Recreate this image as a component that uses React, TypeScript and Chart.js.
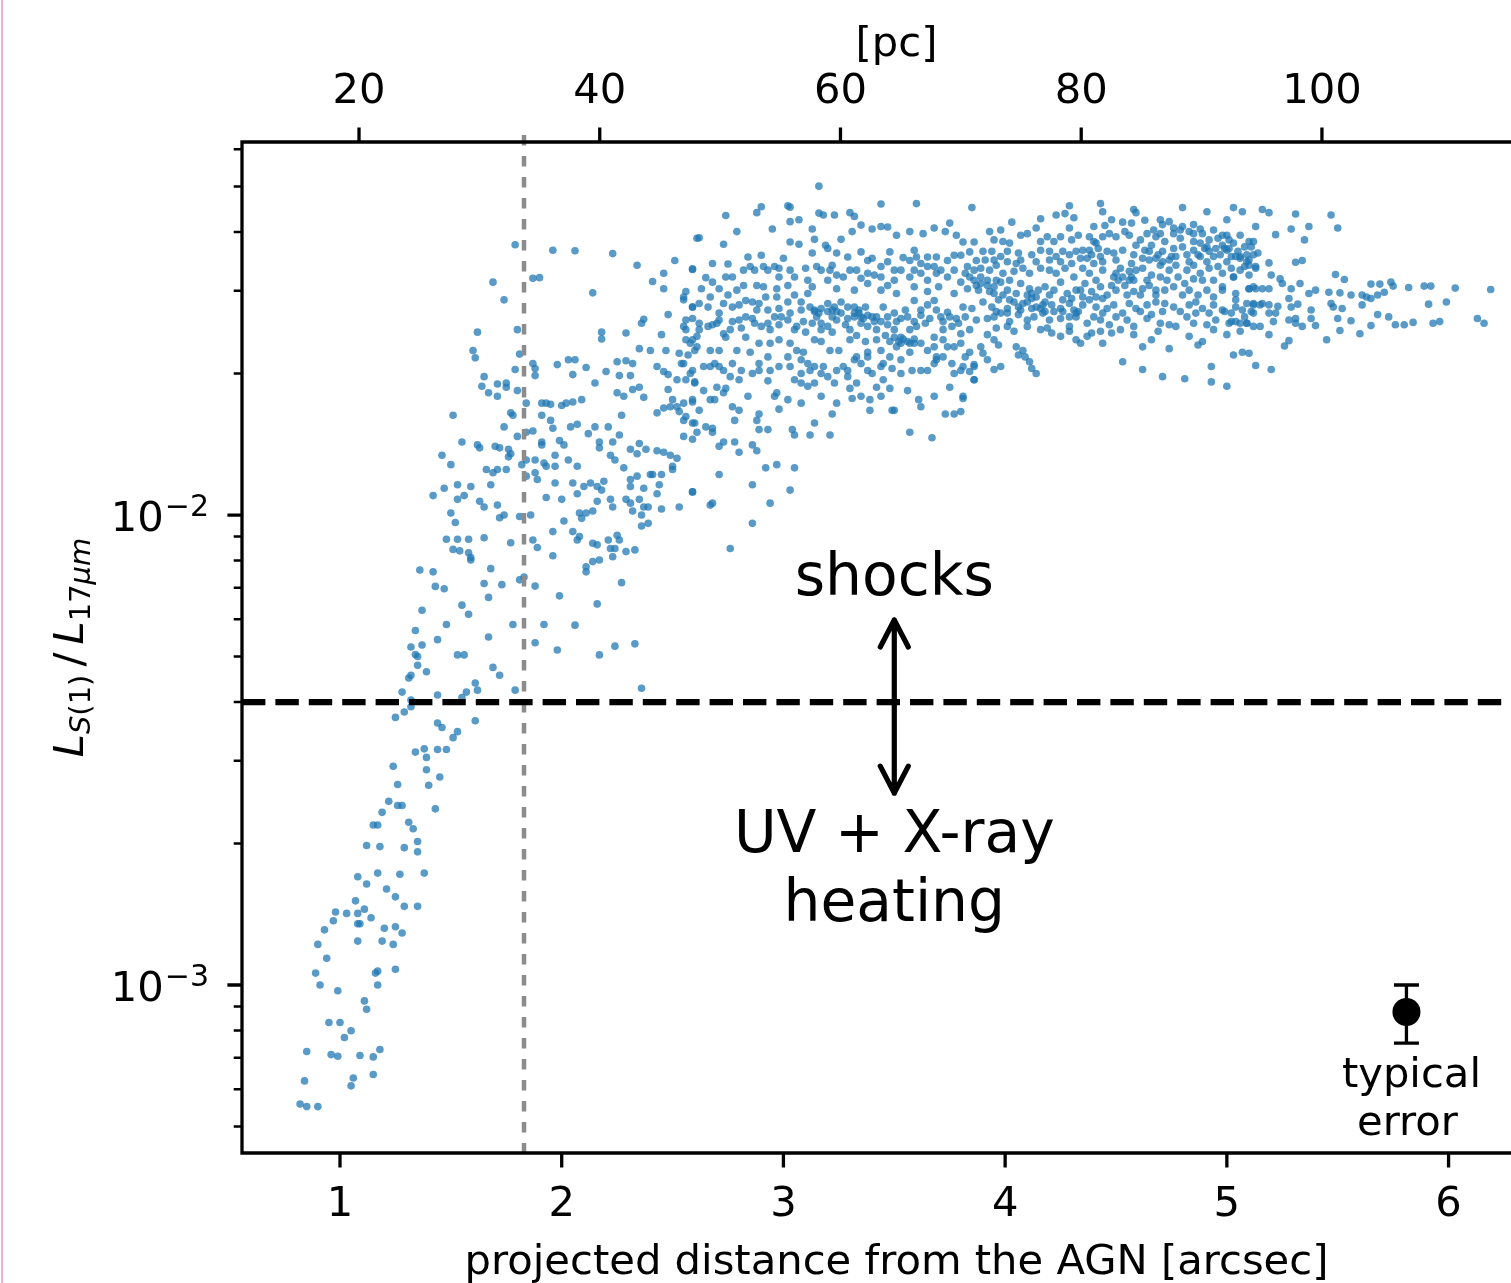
import React, { useEffect, useRef } from "react";
import { Chart, registerables } from "chart.js";

Chart.register(...registerables);

// ---------------- data ----------------
// projected distance [arcsec], L_S(1)/L_17um
const innerRise: [number, number][] = [
  [1.36,0.00764],[1.42,0.00757],[1.43,0.00705],[1.47,0.00697],[1.37,0.00627],[1.34,0.00568],[1.32,0.00524],[1.37,0.00529],[1.34,0.00505],[1.35,0.005],[1.35,0.00479],[1.39,0.00464],[1.31,0.0045],[1.32,0.00456],[1.28,0.0042],[1.32,0.00404],[1.32,0.00391],[1.29,0.00381],[1.25,0.00371],[1.44,0.00414],[1.44,0.00543],[1.48,0.00585],[1.55,0.00643],[1.58,0.00615],[1.59,0.00802],[1.68,0.00769],[1.65,0.00715],[1.73,0.00711],[1.67,0.00668],[1.81,0.00728],[1.83,0.00738],[1.88,0.00706],[1.99,0.00673],[1.78,0.00585],[1.92,0.00585],[1.88,0.00535],[1.98,0.00516],[1.67,0.0055],[1.53,0.00504],[1.56,0.00504],[1.69,0.00474],[1.72,0.00456],[1.61,0.00439],[1.62,0.00424],[1.57,0.0042],[1.55,0.00409],[1.79,0.00424],[1.61,0.00365],[1.44,0.00361],[1.46,0.00353],[1.53,0.00346],[1.51,0.00336],[1.34,0.00313],[1.38,0.00318],[1.44,0.00317],[1.48,0.00317],[1.39,0.00305],[1.24,0.00292],[1.39,0.00287],[1.45,0.00277],[1.26,0.00267],[1.4,0.00266],[1.22,0.00246],[1.26,0.00241],[1.28,0.00241],[1.43,0.00237],[1.19,0.00233],[1.31,0.00222],[1.33,0.00215],[1.15,0.00219],[1.17,0.00219],[1.35,0.00202],[1.35,0.00192],[1.12,0.00198],[1.18,0.00197],[1.29,0.00196],[1.08,0.0017],[1.12,0.00164],[1.17,0.00173],[1.27,0.00172],[1.38,0.00173],[1.21,0.0016],[1.25,0.00154],[1.07,0.00151],[1.11,0.00145],[1.29,0.00147],[1.35,0.00147],[0.98,0.00143],[1.03,0.00142],[1.08,0.00142],[1.14,0.00139],[0.97,0.00137],[1.08,0.00135],[1.09,0.00135],[1.2,0.00132],[1.25,0.00133],[0.93,0.00131],[0.9,0.00122],[1.08,0.00124],[1.19,0.00124],[1.24,0.00122],[1.28,0.00129],[0.94,0.00114],[0.89,0.00106],[0.91,0.001],[0.99,0.000972],[1.16,0.00106],[1.17,0.00107],[1.17,0.001],[1.25,0.00108],[1.11,0.000925],[1.12,0.000888],[0.95,0.000832],[1.0,0.000832],[1.05,0.000799],[1.02,0.000773],[0.85,0.000722],[0.96,0.000711],[0.99,0.000705],[1.09,0.000708],[1.15,0.000703],[1.18,0.000729],[1.06,0.000634],[1.05,0.00061],[1.15,0.000645],[0.84,0.000625],[0.82,0.000558],[0.85,0.000551],[0.9,0.000551],
];

const transition: [number, number][] = [
  [1.79,0.0376],[1.96,0.0366],[2.06,0.0365],[2.23,0.036],[2.34,0.034],[2.51,0.0348],[2.61,0.0388],[2.59,0.0334],[2.46,0.0327],[2.41,0.0314],[2.46,0.0303],[2.56,0.0299],[2.55,0.0287],[2.59,0.0277],[1.69,0.0313],[1.74,0.0287],[1.87,0.0319],[1.9,0.032],[2.14,0.0297],[2.48,0.0267],[2.37,0.0261],[2.36,0.0256],[1.62,0.0245],[1.8,0.0248],[2.18,0.0245],[2.18,0.0237],[2.29,0.0244],[2.45,0.0242],[2.55,0.0252],[2.56,0.0248],[2.59,0.0262],[2.61,0.024],[1.6,0.0224],[1.61,0.0216],[1.81,0.022],[1.87,0.021],[1.88,0.0205],[1.98,0.0209],[2.03,0.0214],[2.06,0.0214],[2.11,0.0206],[2.05,0.0199],[1.88,0.0198],[1.79,0.0204],[1.65,0.0197],[1.64,0.0188],[1.71,0.019],[1.75,0.0191],[1.75,0.0187],[1.67,0.0182],[1.71,0.0179],[1.8,0.0184],[1.84,0.0173],[2.2,0.0202],[2.25,0.0212],[2.29,0.0213],[2.32,0.021],[2.35,0.0226],[2.4,0.0224],[2.47,0.0224],[2.53,0.0221],[2.57,0.0219],[2.6,0.0224],[2.43,0.0207],[2.46,0.0202],[2.48,0.0199],[2.52,0.0194],[2.54,0.021],[2.58,0.02],[2.6,0.0192],[2.26,0.0198],[2.31,0.0198],[2.15,0.0191],[2.25,0.0182],[2.28,0.0179],[2.32,0.0185],[2.35,0.0187],[2.37,0.0178],[2.48,0.0185],[2.5,0.0176],[2.52,0.017],[2.49,0.017],[2.46,0.0169],[2.43,0.0165],[2.53,0.0166],[2.55,0.0159],[2.59,0.0157],[2.59,0.0174],[1.51,0.0163],[1.77,0.0165],[1.78,0.0163],[1.91,0.0173],[1.93,0.0173],[1.95,0.0172],[2.0,0.0171],[2.02,0.0173],[2.05,0.0174],[2.09,0.0176],[1.91,0.0163],[1.95,0.0159],[1.96,0.0153],[1.74,0.0154],[1.8,0.0147],[1.84,0.015],[1.87,0.0151],[2.04,0.0154],[2.07,0.0156],[2.12,0.0149],[2.15,0.0154],[2.21,0.0154],[2.27,0.0163],[2.26,0.0148],[2.17,0.0143],[2.17,0.0139],[2.23,0.0143],[1.55,0.0143],[1.62,0.0141],[1.63,0.0139],[1.7,0.014],[1.72,0.0139],[1.76,0.0138],[1.76,0.0133],[1.77,0.0135],[1.46,0.0134],[1.5,0.0128],[1.66,0.0125],[1.69,0.0123],[1.71,0.0125],[1.75,0.0125],[1.82,0.0128],[1.84,0.0131],[1.88,0.0131],[1.92,0.0129],[1.93,0.0127],[1.97,0.0127],[1.97,0.0134],[2.01,0.0141],[1.99,0.0144],[1.91,0.0143],[1.91,0.0141],[2.03,0.0131],[2.07,0.0127],[2.22,0.0134],[2.24,0.0131],[2.28,0.0126],[2.31,0.0138],[2.35,0.0142],[2.34,0.0135],[2.38,0.0138],[2.43,0.0137],[2.46,0.0136],[2.49,0.0134],[2.52,0.0132],[2.5,0.0127],[2.5,0.0125],[2.4,0.0122],[2.41,0.0122],[2.31,0.0119],[2.34,0.0121],[2.31,0.0115],[2.37,0.0114],[2.44,0.0116],[2.45,0.0122],[2.43,0.0111],[2.53,0.0104],[2.59,0.0112],[1.88,0.0123],[1.89,0.0119],[1.84,0.0121],[1.97,0.0117],[1.42,0.011],[1.47,0.0114],[1.53,0.0116],[1.53,0.0108],[1.56,0.011],[1.59,0.0115],[1.68,0.0116],[1.63,0.0107],[1.65,0.0104],[1.71,0.0105],[1.5,0.0101],[1.52,0.00964],[1.72,0.00987],[1.74,0.01],[1.81,0.00993],[1.86,0.01],[1.93,0.0109],[2.0,0.0108],[2.05,0.0117],[2.07,0.0111],[2.1,0.0115],[2.13,0.0117],[2.16,0.0115],[2.18,0.0113],[2.19,0.0118],[2.16,0.0107],[2.22,0.0108],[2.23,0.0104],[2.29,0.0108],[2.31,0.0106],[2.32,0.0102],[2.35,0.0108],[2.37,0.0104],[2.39,0.0104],[2.45,0.0103],[2.36,0.01],[2.39,0.0096],[2.36,0.00948],[2.08,0.0101],[2.11,0.0101],[2.14,0.0102],[2.09,0.00984],[2.01,0.00971],[1.96,0.00922],[2.05,0.00922],[2.08,0.009],[2.07,0.00885],[2.14,0.00871],[2.16,0.00864],[2.21,0.00885],[2.25,0.00906],[2.26,0.00885],[2.24,0.00849],[2.22,0.00849],[2.23,0.00815],[2.29,0.00836],[2.33,0.00843],[1.48,0.00888],[1.53,0.00888],[1.58,0.00888],[1.65,0.00895],[1.51,0.00845],[1.54,0.00839],[1.58,0.00831],[1.59,0.00812],[1.77,0.00873],[1.87,0.00885],[1.89,0.00853],[1.96,0.00819],[2.11,0.00776],[2.11,0.00757],[2.14,0.00796],[2.17,0.00802],[2.27,0.00718],[2.16,0.00647],[2.06,0.00583],[2.24,0.00526],[2.33,0.00532],[2.17,0.00504],[2.36,0.00428],
];

const plateauLeft: [number, number][] = [
  [3.16,0.0501],[3.44,0.0459],[3.6,0.046],[3.85,0.0451],[2.74,0.0434],[2.88,0.044],[2.9,0.0453],[3.02,0.0455],[3.03,0.0452],[3.16,0.0439],[3.18,0.0435],[3.23,0.0435],[3.3,0.044],[3.32,0.0432],[2.62,0.0389],[2.79,0.0401],[2.95,0.0406],[3.03,0.0421],[3.07,0.0425],[3.13,0.0406],[3.14,0.0386],[3.26,0.0386],[3.31,0.0401],[3.35,0.0414],[3.4,0.0406],[3.44,0.0411],[3.47,0.041],[3.51,0.0394],[3.57,0.0401],[3.63,0.0397],[3.68,0.0408],[3.73,0.0401],[3.75,0.0418],[3.78,0.0394],[3.81,0.0381],[3.86,0.0381],[2.73,0.0377],[3.03,0.0381],[3.07,0.0377],[3.19,0.0375],[3.2,0.0369],[3.35,0.0363],[3.4,0.0352],[3.44,0.0338],[3.48,0.0363],[3.54,0.0353],[3.59,0.0366],[3.6,0.0354],[3.62,0.0343],[3.65,0.0354],[3.69,0.0354],[3.74,0.0348],[3.8,0.0357],[3.84,0.0363],[3.87,0.0348],
  [2.59,0.0333],[2.75,0.0342],[2.65,0.032],[2.68,0.0313],[2.74,0.0321],[2.79,0.0301],[2.82,0.0332],[2.85,0.0338],[2.88,0.0308],[2.91,0.0306],[2.93,0.0332],[2.96,0.0338],[2.98,0.0321],[3.0,0.0352],[2.97,0.0303],[3.02,0.0308],[3.05,0.0321],[3.1,0.0335],[3.15,0.0338],[3.17,0.0332],[3.2,0.0316],[3.22,0.034],[3.27,0.0321],[3.3,0.0332],[3.35,0.0319],[3.38,0.0311],[3.41,0.0324],[3.47,0.0308],[3.5,0.0316],[3.53,0.0332],[3.57,0.0321],[3.62,0.0327],[3.65,0.0316],[3.69,0.0327],[3.74,0.0321],[3.77,0.0332],[3.8,0.0313],[3.84,0.0321],[3.87,0.0308],
  [2.55,0.0291],[2.59,0.0277],[2.63,0.0303],[2.66,0.0277],[2.71,0.0303],[2.73,0.0282],[2.75,0.0294],[2.77,0.0277],[2.8,0.028],[2.83,0.0286],[2.86,0.0262],[2.89,0.0282],[2.93,0.0273],[2.97,0.0291],[2.98,0.0275],[3.02,0.0284],[3.05,0.0294],[3.08,0.0284],[3.11,0.0296],[3.14,0.0273],[3.15,0.0264],[3.2,0.0282],[3.23,0.0277],[3.26,0.0284],[3.29,0.0277],[3.32,0.0269],[3.35,0.0264],[3.38,0.0266],[3.42,0.0264],[3.45,0.0277],[3.5,0.0269],[3.53,0.0262],[3.56,0.0264],[3.59,0.0286],[3.62,0.0273],[3.65,0.028],[3.68,0.0286],[3.71,0.0264],[3.74,0.027],[3.78,0.0262],[3.81,0.0277],[3.85,0.0275],[3.87,0.026],
  [2.56,0.026],[2.62,0.0256],[2.66,0.0252],[2.7,0.0256],[2.73,0.0243],[2.76,0.0248],[2.8,0.026],[2.83,0.0239],[2.87,0.0256],[2.9,0.0252],[2.94,0.0248],[2.98,0.0254],[3.02,0.026],[3.06,0.0252],[3.1,0.0245],[3.13,0.0256],[3.17,0.0248],[3.2,0.0252],[3.24,0.026],[3.28,0.0254],[3.3,0.0248],[3.35,0.0256],[3.38,0.0252],[3.42,0.0248],[3.47,0.0254],[3.5,0.0248],[3.53,0.0239],[3.57,0.0248],[3.6,0.0252],[3.64,0.0256],[3.68,0.0239],[3.72,0.0248],[3.76,0.0252],[3.8,0.0243],[3.84,0.0248],
  [2.56,0.0236],[2.61,0.0228],[2.67,0.0224],[2.71,0.0224],[2.74,0.0239],[2.79,0.0224],[2.85,0.0222],[2.89,0.0232],[2.94,0.0232],[2.98,0.0236],[3.03,0.0232],[3.06,0.0224],[3.09,0.0222],[3.14,0.0236],[3.17,0.0234],[3.21,0.0224],[3.25,0.0224],[3.3,0.0236],[3.33,0.0217],[3.38,0.0222],[3.44,0.0224],[3.48,0.0234],[3.53,0.0232],[3.56,0.0234],[3.59,0.0232],[3.65,0.0224],[3.69,0.0217],[3.74,0.0228],[3.77,0.0228],[3.82,0.0217],[3.86,0.0207],
  [2.55,0.021],[2.59,0.0203],[2.64,0.0207],[2.69,0.021],[2.73,0.0203],[2.77,0.021],[2.81,0.0203],[2.89,0.021],[2.93,0.0217],[2.98,0.0207],[3.02,0.0217],[3.08,0.0214],[3.12,0.0203],[3.14,0.0207],[3.18,0.0207],[3.23,0.0191],[3.27,0.0207],[3.29,0.0203],[3.32,0.0214],[3.38,0.0203],[3.4,0.02],[3.45,0.021],[3.49,0.0205],[3.53,0.02],[3.58,0.0203],[3.68,0.021],[3.69,0.0214],[3.81,0.0207],[3.84,0.0202],[3.86,0.0194],
  [2.56,0.0194],[2.6,0.0191],[2.64,0.0184],[2.7,0.0187],[2.74,0.0186],[2.77,0.017],[2.8,0.0194],[2.93,0.0193],[2.96,0.0179],[2.97,0.0182],[3.05,0.0194],[3.08,0.0191],[3.11,0.0188],[3.17,0.02],[3.2,0.0197],[3.29,0.0197],[3.3,0.0186],[3.31,0.0177],[3.33,0.0191],[3.39,0.0176],[3.42,0.0187],[3.48,0.0186],[3.5,0.0167],[3.61,0.0176],[3.62,0.017],[3.75,0.0187],[3.81,0.0177],
  [2.55,0.0173],[2.59,0.0176],[2.62,0.0167],[2.67,0.0176],[2.69,0.0176],[2.73,0.0182],[2.78,0.0159],[2.8,0.0167],[2.88,0.0159],[2.89,0.0164],[2.89,0.0152],[2.93,0.0152],[2.98,0.0168],[3.14,0.0157],[3.12,0.0148],[3.04,0.0152],[3.05,0.0148],[3.21,0.0148],[3.22,0.0164],[3.39,0.0167],[3.49,0.0167],[3.57,0.015],[3.67,0.0146],[3.73,0.0164],[3.77,0.0164],
  [2.56,0.0162],[2.6,0.0157],[2.65,0.0154],[2.68,0.0153],[2.68,0.015],[2.73,0.0143],[2.78,0.0143],[2.8,0.0136],[2.86,0.0141],[2.88,0.0137],[2.71,0.014],[2.55,0.0147],[2.59,0.0145],[2.61,0.015],[2.92,0.0126],[2.97,0.0128],[3.05,0.0126],[2.71,0.0122],[2.86,0.0116],[3.03,0.0113],[2.94,0.0106],[2.59,0.0112],[2.68,0.0106],[2.67,0.0105],[2.86,0.0096],[2.76,0.00849],
  [2.83,0.0264],[2.86,0.0284],[2.92,0.0291],[2.99,0.0264],[3.03,0.0269],[3.08,0.0273],[3.12,0.0277],[3.16,0.0269],[3.17,0.0256],[3.22,0.0273],[3.26,0.0269],[3.29,0.0262],[3.32,0.0277],[3.34,0.0273],[3.37,0.0277],[3.4,0.0264],[3.44,0.0258],[3.47,0.0264],[3.51,0.0258],[3.55,0.0273],[3.59,0.0258],[3.62,0.0266],[3.66,0.0262],[3.69,0.0273],[3.72,0.0258],[3.75,0.0264],[3.79,0.0256],[3.82,0.0264],
  [2.67,0.0291],[2.71,0.0269],[2.77,0.0258],[2.81,0.025],[2.88,0.0273],[2.93,0.0256],[2.96,0.0264],[3.05,0.0248],[3.09,0.0258],[3.22,0.0245],[3.33,0.0241],[3.37,0.0234],[3.42,0.0236],[3.46,0.0241],[3.51,0.0228],[3.57,0.0222],[3.62,0.0232],[3.68,0.0228],[3.72,0.0236],[3.8,0.0232],[3.84,0.0222],[3.11,0.0316],[3.13,0.0306],[3.24,0.0303],[3.32,0.0301],[3.44,0.0301],[3.51,0.0296],[3.59,0.0306],[3.65,0.0299],[3.7,0.0306],[3.77,0.0296],[3.83,0.0303],[3.38,0.0348],[3.47,0.0346],[3.57,0.0348],[3.68,0.0338],[3.77,0.0357],[3.83,0.0338],[3.24,0.0361],[3.29,0.0354],[3.13,0.0361],[2.9,0.0357],[2.84,0.0354],[2.68,0.0343],[2.62,0.0282],[2.59,0.0236],[2.67,0.0207],[2.76,0.0197],[2.86,0.02],[3.03,0.0207],[3.24,0.0203],[3.35,0.021],[3.45,0.0194],[3.53,0.0214],[3.62,0.0203],[3.77,0.02],[2.84,0.0179],[3.02,0.0176],[3.08,0.0173],[3.17,0.0179],[3.24,0.0173],[3.35,0.0179],[3.44,0.0179],[3.56,0.0184],[3.68,0.0179],
];

const plateauMid: [number, number][] = [
  [4.29,0.0455],[4.43,0.046],[4.44,0.0442],[4.58,0.0447],[4.59,0.044],[4.8,0.0451],[4.91,0.0442],[5.03,0.0451],[5.07,0.0442],[4.23,0.0435],[4.27,0.0438],[4.31,0.0429],[4.03,0.042],[4.16,0.0427],[4.45,0.0413],[4.53,0.042],[4.57,0.0418],[4.63,0.0424],[4.67,0.0404],[4.71,0.0415],[4.74,0.0421],[4.76,0.0408],[4.83,0.0401],[4.88,0.0406],[5.13,0.0411],
  [3.93,0.0401],[3.95,0.0385],[3.99,0.0382],[4.02,0.0379],[4.07,0.0394],[4.1,0.0397],[4.14,0.0408],[4.19,0.0391],[4.22,0.0382],[4.29,0.0408],[4.33,0.0394],[4.38,0.0391],[4.4,0.0382],[4.41,0.0379],[4.47,0.0397],[4.5,0.0391],[4.54,0.0401],[4.56,0.0394],[4.61,0.0385],[4.64,0.0397],[4.68,0.0391],[4.72,0.0382],[4.76,0.0397],[4.79,0.0388],[4.85,0.0382],[4.92,0.0385],[4.96,0.0388],[5.0,0.0394],[5.03,0.0379],[5.08,0.0372],[5.12,0.0382],
  [3.9,0.0364],[3.94,0.0364],[3.98,0.0355],[4.01,0.0364],[4.06,0.0361],[4.12,0.0358],[4.16,0.0366],[4.2,0.0364],[4.23,0.0355],[4.26,0.0364],[4.32,0.0364],[4.35,0.0366],[4.39,0.0358],[4.42,0.0369],[4.46,0.0364],[4.49,0.0361],[4.53,0.0366],[4.58,0.0358],[4.62,0.0352],[4.65,0.0364],[4.71,0.0364],[4.74,0.0349],[4.77,0.0355],[4.82,0.0358],[4.85,0.0366],[4.88,0.0355],[4.92,0.0364],[4.97,0.0358],[5.01,0.0369],[5.06,0.0352],[5.1,0.0349],[5.14,0.0361],
  [3.89,0.0335],[3.93,0.0332],[3.96,0.034],[3.99,0.0327],[4.04,0.033],[4.08,0.0335],[4.11,0.0327],[4.16,0.0335],[4.2,0.0332],[4.23,0.0327],[4.27,0.0335],[4.31,0.0321],[4.35,0.0335],[4.38,0.0327],[4.41,0.0316],[4.44,0.0332],[4.49,0.0321],[4.52,0.0335],[4.56,0.0316],[4.59,0.0332],[4.62,0.0335],[4.66,0.0324],[4.7,0.0321],[4.74,0.0332],[4.78,0.0321],[4.82,0.0332],[4.85,0.0318],[4.88,0.0327],[4.92,0.0335],[4.94,0.0316],[4.98,0.0327],[5.03,0.0321],[5.08,0.0338],[5.1,0.0303],[5.12,0.0306],
  [3.89,0.0311],[3.92,0.0316],[3.95,0.0306],[3.98,0.0313],[4.01,0.0301],[4.05,0.0296],[4.07,0.0311],[4.11,0.0303],[4.14,0.0291],[4.18,0.0306],[4.22,0.0301],[4.25,0.0313],[4.28,0.0296],[4.32,0.0301],[4.35,0.0291],[4.39,0.0299],[4.43,0.0306],[4.46,0.0294],[4.5,0.0301],[4.54,0.0308],[4.58,0.0299],[4.62,0.0303],[4.65,0.0308],[4.68,0.0294],[4.72,0.0301],[4.76,0.0306],[4.8,0.0294],[4.83,0.0301],[4.87,0.0294],[4.91,0.0301],[4.94,0.0291],[4.98,0.0306],[5.04,0.0296],[5.09,0.0282],[5.12,0.028],
  [3.9,0.0284],[3.94,0.0277],[3.97,0.0287],[4.01,0.0275],[4.04,0.0284],[4.08,0.0282],[4.12,0.0289],[4.14,0.0277],[4.18,0.0284],[4.21,0.028],[4.25,0.0275],[4.29,0.0282],[4.31,0.0273],[4.35,0.028],[4.38,0.0287],[4.41,0.0277],[4.46,0.0275],[4.49,0.028],[4.53,0.0269],[4.56,0.0282],[4.59,0.0275],[4.64,0.028],[4.68,0.0284],[4.72,0.0282],[4.76,0.0277],[4.79,0.0271],[4.83,0.028],[4.86,0.0284],[4.89,0.0275],[4.94,0.028],[4.98,0.0273],[5.02,0.0269],[5.07,0.0273],[5.12,0.0269],
  [3.92,0.0262],[3.95,0.0264],[3.98,0.0269],[4.02,0.0258],[4.06,0.0267],[4.1,0.026],[4.13,0.0264],[4.17,0.0269],[4.2,0.026],[4.25,0.0262],[4.29,0.0252],[4.32,0.0264],[4.37,0.0256],[4.4,0.0264],[4.43,0.026],[4.47,0.0254],[4.5,0.0264],[4.55,0.026],[4.58,0.0252],[4.64,0.0262],[4.66,0.0267],[4.7,0.0256],[4.74,0.0254],[4.82,0.0264],[4.85,0.0256],[4.91,0.0254],[4.95,0.026],[5.01,0.0256],[5.04,0.0258],[5.09,0.0256],[5.12,0.0252],
  [3.92,0.0242],[3.96,0.025],[4.04,0.0246],[4.1,0.0252],[4.16,0.0248],[4.21,0.0244],[4.29,0.0246],[4.32,0.0236],[4.34,0.0232],[4.37,0.024],[4.39,0.0244],[4.44,0.0232],[4.48,0.0244],[4.52,0.0248],[4.62,0.0228],[4.66,0.0236],[4.74,0.0226],[4.83,0.024],[4.87,0.023],[4.89,0.0234],[5.03,0.0219],[5.07,0.0222],[5.1,0.0221],[5.13,0.0208],
  [3.89,0.0228],[3.9,0.0221],[3.92,0.0214],[3.95,0.0236],[3.97,0.023],[3.98,0.0207],[3.95,0.0204],[4.05,0.0228],[4.08,0.0224],[4.09,0.0217],[4.11,0.0212],[4.12,0.0205],[4.14,0.02],[4.06,0.0219],[4.53,0.0212],[4.62,0.0204],[4.71,0.0197],[4.81,0.0195],[4.93,0.0207],[4.93,0.0192],[5.0,0.0188],[3.86,0.0209],[3.86,0.0194],[3.81,0.0179],[3.8,0.0166],
  [3.89,0.0321],[3.93,0.0299],[3.96,0.0316],[3.99,0.0294],[4.02,0.0316],[4.1,0.0294],[4.12,0.0275],[4.15,0.0301],[4.17,0.028],[4.2,0.0294],[4.26,0.0287],[4.3,0.0289],[4.34,0.0301],[4.36,0.0311],[4.41,0.0291],[4.44,0.0289],[4.48,0.0308],[4.51,0.0316],[4.55,0.0294],[4.57,0.0321],[4.61,0.0294],[4.64,0.0316],[4.68,0.0301],[4.7,0.034],[4.73,0.0316],[4.77,0.034],[4.81,0.0311],[4.85,0.034],[4.89,0.0316],[4.91,0.0346],[4.94,0.0355],[4.96,0.0338],[5.0,0.0346],[5.02,0.0335],[5.06,0.0332],[5.1,0.0324],[5.13,0.0338],
  [3.95,0.0349],[4.05,0.0343],[4.14,0.0346],[4.25,0.0346],[4.3,0.0343],[4.37,0.0352],[4.44,0.0346],[4.5,0.0349],[4.57,0.0343],[4.63,0.0366],[4.68,0.0352],[4.76,0.0369],[4.8,0.0372],[4.83,0.0346],[4.87,0.0358],[4.9,0.0369],[4.95,0.0369],[4.98,0.0375],[5.05,0.0364],[5.09,0.0358],[3.98,0.0404],[4.16,0.0382],[4.25,0.0391],[4.3,0.0385],[4.44,0.0391],[4.59,0.0375],[4.66,0.0375],[4.7,0.0397],[4.8,0.0411],[4.89,0.0397],[4.94,0.0404],[5.06,0.0394],[5.1,0.0382],[4.4,0.0411],[4.48,0.0425],[4.7,0.0425],[4.85,0.0415],[5.0,0.0425],
  [3.96,0.0271],[4.07,0.0273],[4.22,0.0271],[4.33,0.0271],[4.44,0.0269],[4.61,0.0271],[4.71,0.0271],[4.86,0.0269],[4.92,0.0269],[5.04,0.0277],[5.08,0.0264],[4.01,0.0252],[4.19,0.025],[4.25,0.024],[4.43,0.0246],[4.58,0.0242],[4.69,0.0246],[4.77,0.0252],[4.94,0.0248],[5.0,0.0242],
];

const plateauCore: [number, number][] = [
  [3.14,0.0271],[3.17,0.0275],[3.2,0.0271],[3.22,0.0264],[3.24,0.0271],[3.32,0.0264],[3.34,0.0269],[3.36,0.0262],[3.41,0.0258],[3.5,0.0239],[3.52,0.0234],[3.54,0.0237],[3.57,0.0232],[3.59,0.0237],[2.71,0.026],[2.68,0.0254],[2.62,0.0248],[2.58,0.0232],[2.71,0.0207],[2.89,0.0203],[2.94,0.0203],[3.11,0.021],[3.08,0.02],[3.14,0.0191],[3.38,0.0217],[3.44,0.0207],[3.48,0.0217],[3.65,0.0203],[3.72,0.0217],[3.76,0.021],[3.8,0.0203],[2.77,0.0321],[2.82,0.0308],[2.87,0.0332],[2.91,0.0338],[2.98,0.0335],[3.03,0.0332],[3.21,0.0332],[3.24,0.0324],[3.33,0.0332],[3.38,0.0327],[3.44,0.0321],[3.5,0.0332],[3.59,0.0332],[3.65,0.0338],[3.71,0.0332],[3.82,0.0327],[3.86,0.0332],
  [3.86,0.0316],[3.88,0.0301],[3.92,0.0308],[3.95,0.0296],[4.1,0.0284],[4.12,0.0296],[4.16,0.0275],[4.18,0.0271],[4.26,0.0271],[4.29,0.0264],[4.32,0.0269],[4.65,0.0349],[4.69,0.0358],[4.71,0.0346],[4.75,0.0355],[4.53,0.0321],[4.56,0.033],[4.58,0.0316],[4.5,0.0327],[4.02,0.0287],[4.06,0.0277],[4.01,0.0269],[5.0,0.0366],[5.04,0.0355],[5.09,0.0346],[5.11,0.0372],[4.88,0.0379],[4.91,0.0372],[4.85,0.0397],[4.79,0.0404],[4.38,0.0366],[4.43,0.0355],[4.4,0.0343],[4.34,0.0352],[4.29,0.0358],[4.2,0.0349],[4.07,0.0349],[4.01,0.0346],[3.91,0.0349],
  [4.98,0.0394],[5.01,0.0385],[4.99,0.0369],[5.02,0.0355],[5.06,0.0355],[5.12,0.0358],[5.1,0.034],[5.13,0.0335],[5.03,0.0321],[4.98,0.0301],[5.1,0.0303],[5.13,0.0303],[5.04,0.0287],[5.12,0.0282],[5.15,0.028],[4.99,0.0271],[5.11,0.0271],[5.02,0.0258],[5.06,0.0256],[5.09,0.0256],[5.15,0.0252],[5.06,0.0246],
];

const plateauRight: [number, number][] = [
  [5.16,0.0447],[5.19,0.044],[5.31,0.0437],[5.47,0.0435],[5.29,0.0406],[5.37,0.0411],[5.5,0.0408],[5.22,0.0395],[5.35,0.0385],[5.19,0.0344],[5.31,0.0345],[5.34,0.0348],[5.2,0.0324],[5.24,0.0318],[5.25,0.0311],[5.29,0.0303],[5.33,0.0311],[5.37,0.0296],[5.4,0.0301],[5.49,0.0325],[5.53,0.0317],[5.46,0.0298],[5.51,0.0297],[5.56,0.0294],[5.61,0.0294],[5.65,0.031],[5.69,0.031],[5.74,0.0313],[5.75,0.0307],[5.71,0.0298],[5.68,0.0294],[5.65,0.0289],[5.82,0.0305],[5.89,0.0307],[5.92,0.0307],[6.03,0.0304],[6.19,0.0302],
  [5.16,0.0303],[5.19,0.0303],[5.16,0.0282],[5.19,0.028],[5.23,0.0278],[5.19,0.0269],[5.22,0.0269],[5.21,0.0258],[5.19,0.0242],[5.28,0.0289],[5.29,0.0277],[5.32,0.0281],[5.28,0.026],[5.31,0.0262],[5.34,0.0252],[5.31,0.0256],[5.38,0.0273],[5.4,0.0253],[5.38,0.0262],[5.47,0.0282],[5.48,0.0277],[5.52,0.0275],[5.5,0.0262],[5.51,0.0247],[5.45,0.0236],[5.56,0.0259],[5.6,0.0243],[5.65,0.0253],[5.68,0.0267],[5.73,0.0264],[5.76,0.0254],[5.8,0.0254],[5.84,0.0257],[5.91,0.0281],[5.93,0.0256],[5.96,0.0258],[5.99,0.0284],[6.13,0.0262],[6.16,0.0256],[5.26,0.0229],[5.28,0.0235],[5.2,0.0204],[5.61,0.028],[5.63,0.0291],
];

const ALL_POINTS = [...innerRise, ...transition, ...plateauLeft, ...plateauMid, ...plateauCore, ...plateauRight];

// axes / reference lines
const X_MIN = 0.558;
const X_MAX = 6.462;
const Y_MIN = 4.39e-4;
const Y_MAX = 0.0622;
const PC_PER_ARCSEC = 18.42;
const X_TICKS = [1, 2, 3, 4, 5, 6];
const PC_TICKS = [20, 40, 60, 80, 100];
const Y_MAJOR = [1e-3, 1e-2];
const Y_MAJOR_EXP = ["\u22123", "\u22122"];
const Y_MINOR = [5e-4, 6e-4, 7e-4, 8e-4, 9e-4, 2e-3, 3e-3, 4e-3, 5e-3, 6e-3, 7e-3, 8e-3, 9e-3, 2e-2, 3e-2, 4e-2, 5e-2, 6e-2];
const THRESHOLD = 0.004;
const RESOLUTION_LIMIT = 1.83;
const ARROW_X = 3.5;
const ARROW_TOP = 0.00598;
const ARROW_BOTTOM = 0.00256;
const SHOCKS_Y = 0.00676;
const HEATING_Y = 0.00192;
const TYPICAL = { x: 5.81, y: 8.76e-4, lo: 7.52e-4, hi: 1.0e-3 };
const TYPICAL_TEXT_Y = 6.07e-4;

const FONT = '"DejaVu Sans", "Liberation Sans", sans-serif';
const FS = 41.7;

const decor = {
  id: "decor",
  afterDatasetsDraw(chart: any) {
    const { ctx, chartArea: a, scales } = chart;
    const xs = scales.x, ys = scales.y;
    ctx.save();
    // vertical dotted line
    const vx = xs.getPixelForValue(RESOLUTION_LIMIT);
    ctx.strokeStyle = "#8c8c8c";
    ctx.lineWidth = 4.5;
    ctx.setLineDash([10.5, 10.5]);
    ctx.beginPath();
    ctx.moveTo(vx, a.top - 7);
    ctx.lineTo(vx, a.bottom);
    ctx.stroke();
    // horizontal dashed threshold
    const hy = ys.getPixelForValue(THRESHOLD);
    ctx.strokeStyle = "#000";
    ctx.lineWidth = 6.2;
    ctx.setLineDash([23.4, 10]);
    ctx.beginPath();
    ctx.moveTo(a.left, hy);
    ctx.lineTo(a.right, hy);
    ctx.stroke();
    ctx.setLineDash([]);

    // double arrow
    const ax = xs.getPixelForValue(ARROW_X);
    const at = ys.getPixelForValue(ARROW_TOP);
    const ab = ys.getPixelForValue(ARROW_BOTTOM);
    ctx.lineWidth = 5.2;
    ctx.lineCap = "round";
    ctx.lineJoin = "round";
    ctx.beginPath();
    ctx.moveTo(ax, at);
    ctx.lineTo(ax, ab);
    ctx.moveTo(ax - 14, at + 27);
    ctx.lineTo(ax, at);
    ctx.lineTo(ax + 14, at + 27);
    ctx.moveTo(ax - 14, ab - 27);
    ctx.lineTo(ax, ab);
    ctx.lineTo(ax + 14, ab - 27);
    ctx.stroke();
    ctx.lineCap = "butt";

    // error bar of typical point
    const ex = xs.getPixelForValue(TYPICAL.x);
    const eTop = ys.getPixelForValue(TYPICAL.hi);
    const eBot = ys.getPixelForValue(TYPICAL.lo);
    ctx.lineWidth = 3.3;
    ctx.beginPath();
    ctx.moveTo(ex, eTop);
    ctx.lineTo(ex, eBot);
    ctx.moveTo(ex - 12.5, eTop);
    ctx.lineTo(ex + 12.5, eTop);
    ctx.moveTo(ex - 12.5, eBot);
    ctx.lineTo(ex + 12.5, eBot);
    ctx.stroke();

    // annotation texts
    ctx.fillStyle = "#000";
    ctx.textAlign = "center";
    ctx.textBaseline = "alphabetic";
    ctx.font = `58.3px ${FONT}`;
    ctx.fillText("shocks", ax, ys.getPixelForValue(SHOCKS_Y));
    const hb = ys.getPixelForValue(HEATING_Y);
    ctx.fillText("UV + X-ray", ax, hb);
    ctx.fillText("heating", ax, hb + 69);
    ctx.font = `${FS}px ${FONT}`;
    const tb = ys.getPixelForValue(TYPICAL_TEXT_Y);
    ctx.fillText("typical", ex + 5, tb);
    ctx.fillText("error", ex + 1, tb + 48);
    ctx.restore();
  },
  afterDraw(chart: any) {
    const { ctx, chartArea: a, scales } = chart;
    const xs = scales.x, ys = scales.y, x2 = scales.x2;
    ctx.save();
    ctx.strokeStyle = "#000";
    ctx.fillStyle = "#000";
    // spines
    ctx.lineWidth = 3.3;
    ctx.beginPath();
    ctx.moveTo(a.left, a.bottom);
    ctx.lineTo(a.left, a.top);
    ctx.lineTo(a.right, a.top);
    ctx.lineTo(a.right, a.bottom);
    ctx.closePath();
    ctx.stroke();

    // bottom ticks + labels
    ctx.font = `${FS}px ${FONT}`;
    ctx.textAlign = "center";
    ctx.textBaseline = "alphabetic";
    ctx.beginPath();
    for (const v of X_TICKS) {
      const px = xs.getPixelForValue(v);
      ctx.moveTo(px, a.bottom);
      ctx.lineTo(px, a.bottom + 14.6);
    }
    ctx.stroke();
    for (const v of X_TICKS) ctx.fillText(String(v), xs.getPixelForValue(v), a.bottom + 63);

    // top ticks + labels (pc)
    ctx.beginPath();
    for (const v of PC_TICKS) {
      const px = x2.getPixelForValue(v);
      ctx.moveTo(px, a.top);
      ctx.lineTo(px, a.top - 14.6);
    }
    ctx.stroke();
    for (const v of PC_TICKS) ctx.fillText(String(v), x2.getPixelForValue(v), a.top - 39);

    // y ticks
    ctx.beginPath();
    for (const v of Y_MAJOR) {
      const py = ys.getPixelForValue(v);
      ctx.moveTo(a.left, py);
      ctx.lineTo(a.left - 14.6, py);
    }
    ctx.stroke();
    ctx.lineWidth = 2.5;
    ctx.beginPath();
    for (const v of Y_MINOR) {
      const py = ys.getPixelForValue(v);
      ctx.moveTo(a.left, py);
      ctx.lineTo(a.left - 8.3, py);
    }
    ctx.stroke();

    // y tick labels 10^-n
    Y_MAJOR.forEach((v, i) => {
      const py = ys.getPixelForValue(v);
      const right = 209;
      ctx.textAlign = "right";
      ctx.font = `30px ${FONT}`;
      const supW = ctx.measureText(Y_MAJOR_EXP[i]).width;
      ctx.fillText(Y_MAJOR_EXP[i], right, py + 1);
      ctx.font = `${FS}px ${FONT}`;
      ctx.fillText("10", right - supW - 1, py + 16);
    });

    // axis titles
    ctx.textAlign = "center";
    ctx.font = `${FS}px ${FONT}`;
    const cx = (a.left + a.right) / 2;
    ctx.fillText("projected distance from the AGN [arcsec]", cx, 1274);
    ctx.fillText("[pc]", cx, 56);

    // y title: L_{S(1)} / L_{17 mu m}
    const parts = [
      { t: "L", f: `italic ${FS}px ${FONT}`, dy: 0, gap: 0 },
      { t: "S", f: `italic 29px ${FONT}`, dy: 7, gap: 0 },
      { t: "(1)", f: `29px ${FONT}`, dy: 7, gap: 8 },
      { t: "/", f: `${FS}px ${FONT}`, dy: 0, gap: 8 },
      { t: "L", f: `italic ${FS}px ${FONT}`, dy: 0, gap: 0 },
      { t: "17", f: `29px ${FONT}`, dy: 7, gap: 0 },
      { t: "\u03bcm", f: `italic 29px ${FONT}`, dy: 7, gap: 0 },
    ];
    ctx.save();
    ctx.translate(83, (a.top + a.bottom) / 2);
    ctx.rotate(-Math.PI / 2);
    ctx.textAlign = "left";
    let total = 0;
    for (const p of parts) {
      ctx.font = p.f;
      total += ctx.measureText(p.t).width + p.gap;
    }
    let u = -total / 2;
    for (const p of parts) {
      ctx.font = p.f;
      ctx.fillText(p.t, u, p.dy);
      u += ctx.measureText(p.t).width + p.gap;
    }
    ctx.restore();
    ctx.restore();
  },
};

export default function App() {
  const ref = useRef<HTMLCanvasElement>(null);
  useEffect(() => {
    const canvas = ref.current;
    if (!canvas) return;
    const chart = new Chart(canvas, {
      type: "scatter",
      data: {
        datasets: [
          {
            data: [{ x: TYPICAL.x, y: TYPICAL.y }],
            backgroundColor: "#000",
            borderWidth: 0,
            pointRadius: 14,
            pointHoverRadius: 14,
            order: 0,
          },
          {
            data: ALL_POINTS.map(([x, y]) => ({ x, y })),
            backgroundColor: "rgba(31,119,180,0.74)",
            borderWidth: 0,
            pointRadius: 3.8,
            pointHoverRadius: 3.8,
            order: 2,
          },
        ],
      },
      options: {
        responsive: false,
        maintainAspectRatio: false,
        animation: false,
        devicePixelRatio: 1,
        events: [],
        layout: { autoPadding: false, padding: { left: 242, top: 142, right: 0, bottom: 130 } },
        plugins: { legend: { display: false }, tooltip: { enabled: false } },
        scales: {
          x: { type: "linear", display: false, min: X_MIN, max: X_MAX },
          x2: {
            type: "linear",
            display: false,
            position: "top",
            min: X_MIN * PC_PER_ARCSEC,
            max: X_MAX * PC_PER_ARCSEC,
          },
          y: { type: "logarithmic", display: false, min: Y_MIN, max: Y_MAX },
        },
      },
      plugins: [decor],
    } as any);
    return () => chart.destroy();
  }, []);
  return (
    <div
      style={{
        position: "fixed",
        left: 0,
        top: 0,
        width: 1511,
        height: 1283,
        overflow: "hidden",
        background: "#fff",
      }}
    >
      <canvas ref={ref} width={1551} height={1283} style={{ display: "block", width: 1551, height: 1283 }} />
      <div style={{ position: "absolute", left: 1, top: 0, width: 2, height: 1283, background: "#f5acd9" }} />
    </div>
  );
}
